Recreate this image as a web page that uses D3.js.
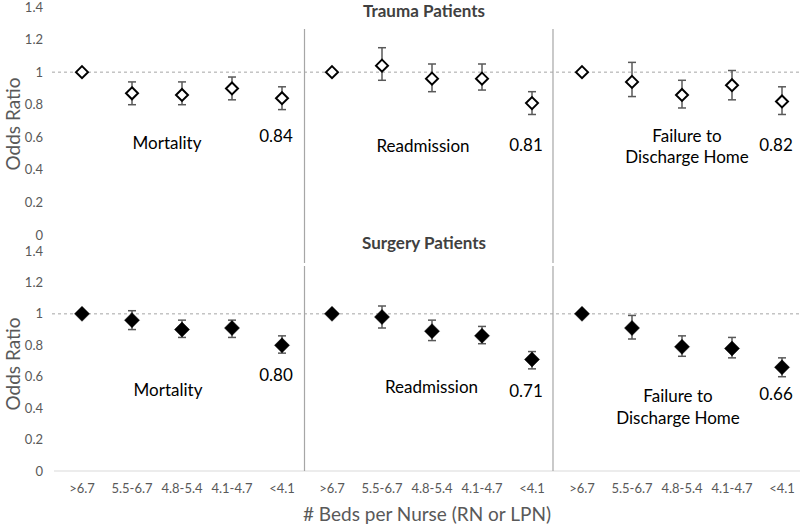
<!DOCTYPE html>
<html><head><meta charset="utf-8">
<script src="https://cdn.jsdelivr.net/npm/d3@7"></script>
<style>
html,body{margin:0;padding:0;background:#fff;}
svg{display:block;font-family:Lato,"Open Sans",sans-serif;}
</style></head>
<body><svg id="c" width="800" height="524"></svg>
<script>
// ---- data ----
const categories = [">6.7", "5.5-6.7", "4.8-5.4", "4.1-4.7", "<4.1"];
const outcomes = ["Mortality", "Readmission", "Failure to Discharge Home"];
const panelTitles = ["Trauma Patients", "Surgery Patients"];
const yTicks = [0, 0.2, 0.4, 0.6, 0.8, 1, 1.2, 1.4];

const traumaOR = [[1, 0.87, 0.86, 0.90, 0.84], [1, 1.04, 0.96, 0.96, 0.81], [1, 0.94, 0.86, 0.92, 0.82]];
const traumaLo = [[1, 0.80, 0.80, 0.83, 0.77], [1, 0.95, 0.88, 0.89, 0.74], [1, 0.85, 0.78, 0.83, 0.74]];
const traumaHi = [[1, 0.94, 0.94, 0.97, 0.91], [1, 1.15, 1.05, 1.05, 0.88], [1, 1.06, 0.95, 1.01, 0.91]];
const surgeryOR = [[1, 0.96, 0.90, 0.91, 0.80], [1, 0.98, 0.89, 0.86, 0.71], [1, 0.91, 0.79, 0.78, 0.66]];
const surgeryLo = [[1, 0.90, 0.85, 0.85, 0.75], [1, 0.91, 0.83, 0.81, 0.65], [1, 0.84, 0.73, 0.72, 0.60]];
const surgeryHi = [[1, 1.02, 0.96, 0.96, 0.86], [1, 1.05, 0.96, 0.92, 0.76], [1, 0.99, 0.86, 0.85, 0.72]];
const lastLabels = [["0.84", "0.81", "0.82"], ["0.80", "0.71", "0.66"]];

// ---- layout ----
const svg = d3.select("#c");
const keys = [];
outcomes.forEach((o, oi) => categories.forEach((c, ci) => keys.push(oi + "|" + ci)));
const x = d3.scaleBand().domain(keys).range([57, 807]).padding(0);
const cx = (oi, ci) => x(oi + "|" + ci) + x.bandwidth() / 2;

const panels = [
  {title: panelTitles[0], or: traumaOR, lo: traumaLo, hi: traumaHi, filled: false,
   y: d3.scaleLinear().domain([0, 1.4]).range([235, 7]), titleY: 17, sepTop: 29, sepBot: 263, axisLine: false,
   outcomeDy: [[0.565], [0.546], [0.61, 0.48]], outcomeDx: [1.7, 1.82, 2.1], numDy: [0.61, 0.555, 0.555]},
  {title: panelTitles[1], or: surgeryOR, lo: surgeryLo, hi: surgeryHi, filled: true,
   y: d3.scaleLinear().domain([0, 1.4]).range([471, 251]), titleY: 249, sepTop: 266, sepBot: 471, axisLine: true,
   outcomeDy: [[0.516], [0.535], [0.48, 0.34]], outcomeDx: [1.72, 1.99, 1.92], numDy: [0.61, 0.51, 0.49]}
];

const diamondPath = r => `M0,${-r}L${r},0L0,${r}L${-r},0Z`;

panels.forEach((p, pi) => {
  const g = svg.append("g");
  const y = p.y;
  // y tick labels
  g.selectAll(".yt").data(yTicks).join("text")
    .attr("x", 43).attr("y", d => y(d)).attr("dy", "0.35em")
    .attr("text-anchor", "end").attr("font-size", 13).attr("fill", "#595959")
    .text(d => String(+d.toFixed(1)));
  // x axis line
  if (p.axisLine) {
    g.append("line").attr("x1", 54).attr("x2", 800).attr("y1", y(0)).attr("y2", y(0))
      .attr("stroke", "#d9d9d9").attr("stroke-width", 1);
  }
  // reference dashed line
  g.append("line").attr("x1", 52).attr("x2", 800).attr("y1", y(1)).attr("y2", y(1))
    .attr("stroke", "#a6a6a6").attr("stroke-width", 1).attr("stroke-dasharray", "3,3");
  // separators
  [1, 2].forEach(oi => {
    const sx = Math.round(x(oi + "|0")) - 2.5 - (oi - 1) * 1.5;
    g.append("line").attr("x1", sx).attr("x2", sx).attr("y1", p.sepTop).attr("y2", p.sepBot)
      .attr("stroke", "#a6a6a6").attr("stroke-width", 1.2);
  });
  // title
  g.append("text").attr("x", 424).attr("y", p.titleY).attr("text-anchor", "middle")
    .attr("font-size", 17).attr("font-weight", "bold").attr("fill", "#404040").text(p.title);

  outcomes.forEach((o, oi) => {
    categories.forEach((c, ci) => {
      const px = cx(oi, ci), lo = p.lo[oi][ci], hi = p.hi[oi][ci], v = p.or[oi][ci];
      if (hi !== lo) {
        const eg = g.append("g").attr("stroke", "#595959").attr("stroke-width", 1.5);
        eg.append("line").attr("x1", px).attr("x2", px).attr("y1", y(hi)).attr("y2", y(lo));
        eg.append("line").attr("x1", px - 4).attr("x2", px + 4).attr("y1", y(hi)).attr("y2", y(hi));
        eg.append("line").attr("x1", px - 4).attr("x2", px + 4).attr("y1", y(lo)).attr("y2", y(lo));
      }
      g.append("path")
        .attr("d", diamondPath(p.filled ? 7.5 : 6))
        .attr("transform", `translate(${px},${y(v)})`)
        .attr("fill", p.filled ? "#000" : "#fff")
        .attr("stroke", "#000").attr("stroke-width", p.filled ? 0.5 : 2);
    });
    // outcome label
    const lines = o === "Failure to Discharge Home" ? ["Failure to", "Discharge Home"] : [o];
    const lx = cx(oi, 0) + p.outcomeDx[oi] * x.bandwidth();
    lines.forEach((ln, li) => {
      const vy = p.outcomeDy[oi][li] !== undefined ? p.outcomeDy[oi][li] : p.outcomeDy[oi][0];
      g.append("text").attr("x", lx).attr("y", y(vy)).attr("dy", "0.35em")
        .attr("text-anchor", "middle").attr("font-size", 17).attr("fill", "#000").text(ln);
    });
    // last value label
    g.append("text").attr("x", cx(oi, 4) - 6).attr("y", y(p.numDy[oi])).attr("dy", "0.35em")
      .attr("text-anchor", "middle").attr("font-size", 17).attr("fill", "#000").text(lastLabels[pi][oi]);
  });

  // y axis title
  g.append("text").attr("transform", `translate(20,${(y(0) + y(1.4)) / 2 + 3}) rotate(-90)`)
    .attr("text-anchor", "middle").attr("font-size", 19).attr("fill", "#595959").text("Odds Ratio");
});

// x tick labels (bottom)
const bottomY = 488;
svg.append("g").selectAll("text").data(keys).join("text")
  .attr("x", d => x(d) + x.bandwidth() / 2).attr("y", bottomY).attr("dy", "0.35em")
  .attr("text-anchor", "middle").attr("font-size", 13).attr("fill", "#595959")
  .text(d => categories[+d.split("|")[1]]);

svg.append("text").attr("x", 427).attr("y", 514).attr("dy", "0.35em").attr("text-anchor", "middle")
  .attr("font-size", 19).attr("fill", "#595959").text("# Beds per Nurse (RN or LPN)");
</script></body></html>
